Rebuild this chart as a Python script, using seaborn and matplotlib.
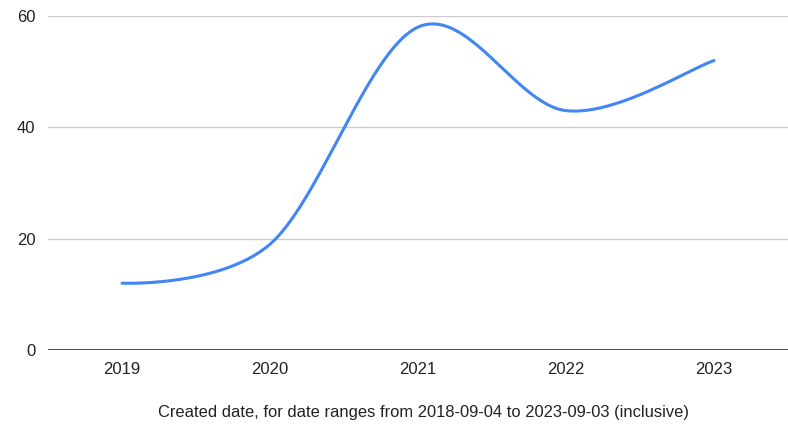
import numpy as np
import pandas as pd
import matplotlib.pyplot as plt
import seaborn as sns

# --------------------------
# Data
# --------------------------
years = ["2019", "2020", "2021", "2022", "2023"]
counts = [12, 19, 58, 43, 52]

# --------------------------
# Smooth curve (cubic Bezier through the points, Catmull-Rom style)
# --------------------------
def smooth(xs, ys, steps=60, k=1/6):
    xs = np.asarray(xs, float)
    ys = np.asarray(ys, float)
    n = len(xs)
    out_x, out_y = [], []
    for i in range(n - 1):
        p0 = np.array([xs[i], ys[i]])
        p3 = np.array([xs[i + 1], ys[i + 1]])
        prev = np.array([xs[i - 1], ys[i - 1]]) if i > 0 else p0
        nxt = np.array([xs[i + 2], ys[i + 2]]) if i + 2 < n else p3
        c1 = p0 + (p3 - prev) * k if i > 0 else p0
        c2 = p3 - (nxt - p0) * k
        t = np.linspace(0, 1, steps)[:, None]
        pts = ((1 - t) ** 3) * p0 + 3 * ((1 - t) ** 2) * t * c1 + 3 * (1 - t) * t ** 2 * c2 + t ** 3 * p3
        out_x.extend(pts[:, 0])
        out_y.extend(pts[:, 1])
    return np.array(out_x), np.array(out_y)

sx, sy = smooth(range(len(years)), counts)
df = pd.DataFrame({"x": sx, "y": sy})

# --------------------------
# Plot
# --------------------------
sns.set_style("white")
plt.rcParams["font.family"] = ["Liberation Sans", "DejaVu Sans"]

fig = plt.figure(figsize=(7.88, 4.24), dpi=100)
ax = fig.add_axes([48 / 788, 74 / 424, 740 / 788, 334 / 424])

sns.lineplot(data=df, x="x", y="y", sort=False, color="#4285F4", linewidth=2.2, ax=ax)

ax.set_xlim(-0.5, len(years) - 0.5)
ax.set_ylim(0, 60)
ax.set_xticks(range(len(years)))
ax.set_xticklabels(years)
ax.set_yticks([0, 20, 40, 60])
ax.yaxis.grid(True, color="#cccccc", linewidth=1)
ax.axhline(0, color="#333333", linewidth=1.2, zorder=3)
for s in ax.spines.values():
    s.set_visible(False)
ax.tick_params(axis="both", length=0, labelsize=12, colors="#222222")
ax.tick_params(axis="x", pad=9)
ax.tick_params(axis="y", pad=9)
ax.set_ylabel("")
ax.set_xlabel("Created date, for date ranges from 2018-09-04 to 2023-09-03 (inclusive)",
              fontsize=11.9, color="#222222")
ax.xaxis.set_label_coords(0.507, -62 / 334, transform=ax.transAxes)
ax.xaxis.label.set_va("center")

plt.savefig("out.png", dpi=100)
